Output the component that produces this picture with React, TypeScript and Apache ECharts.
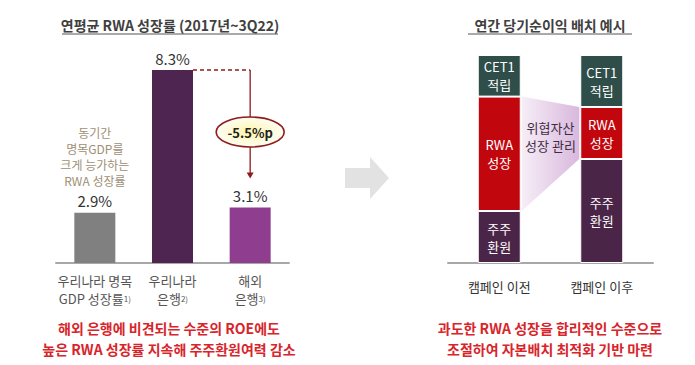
import React, { useEffect, useRef } from "react";
import * as echarts from "echarts";

// ---- Left panel data ----
const leftTitle = "연평균 RWA 성장률 (2017년~3Q22)";
const leftCategories = ["우리나라 명목\nGDP 성장률", "우리나라\n은행", "해외\n은행"];
const leftFootnotes = ["1)", "2)", "3)"];
const leftValues = [2.9, 8.3, 3.1];
const leftColors = ["#808080", "#4e2551", "#8f3d8e"];
const gdpNote = ["동기간", "명목GDP를", "크게 능가하는", "RWA 성장률"];
const gapLabel = "-5.5%p";
const leftBottomText = ["해외 은행에 비견되는 수준의 ROE에도", "높은 RWA 성장률 지속해 주주환원여력 감소"];

// ---- Right panel data ----
const rightTitle = "연간 당기순이익 배치 예시";
const rightCategories = ["캠페인 이전", "캠페인 이후"];
const shareholderReturn = [25, 50];
const rwaGrowth = [55, 25];
const cet1 = [20, 25];
const segmentNames = ["주주\n환원", "RWA\n성장", "CET1\n적립"];
const managementLabel = "위협자산\n성장 관리";
const rightBottomText = ["과도한 RWA 성장을 합리적인 수준으로", "조절하여 자본배치 최적화 기반 마련"];

const FONT = "'Noto Sans CJK KR', 'Noto Sans', sans-serif";
const LEFT_BAR_W = 41;
const RIGHT_BAR_W = 43;

export default function App() {
  const ref = useRef<HTMLDivElement>(null);

  useEffect(() => {
    if (!ref.current) return;
    const chart = echarts.init(ref.current, null, { renderer: "svg" });

    const option: any = {
      animation: false,
      backgroundColor: "#ffffff",
      textStyle: { fontFamily: FONT },
      grid: [
        { left: 56, top: 70, width: 233, height: 193 },
        { left: 448, top: 55, width: 205, height: 208 },
      ],
      xAxis: [
        {
          type: "category",
          gridIndex: 0,
          data: leftCategories,
          axisLine: { onZero: false, lineStyle: { color: "#a8a8a8", width: 2 } },
          axisTick: { show: false },
          axisLabel: {
            margin: 8,
            interval: 0,
            formatter: (v: string, i: number) => {
              const lines = v.split("\n");
              return `{n|${lines[0]}}\n{n|${lines[1]}}{s|${leftFootnotes[i]}}`;
            },
            rich: {
              n: { fontSize: 13, color: "#555555", lineHeight: 18, fontFamily: FONT },
              s: { fontSize: 8, color: "#555555", lineHeight: 18, fontFamily: FONT },
            },
          },
        },
        {
          type: "category",
          gridIndex: 1,
          data: rightCategories,
          axisLine: { onZero: false, lineStyle: { color: "#a8a8a8", width: 2 } },
          axisTick: { show: false },
          axisLabel: { margin: 17, fontSize: 13, color: "#333333", fontFamily: FONT },
        },
      ],
      yAxis: [
        { type: "value", gridIndex: 0, min: 1, max: 8.3, show: false },
        { type: "value", gridIndex: 1, min: 0, max: 100, show: false },
      ],
      series: [
        {
          type: "bar",
          xAxisIndex: 0,
          yAxisIndex: 0,
          barWidth: LEFT_BAR_W,
          clip: true,
          data: leftValues.map((v, i) => ({ value: v, itemStyle: { color: leftColors[i] } })),
          label: {
            show: true,
            position: "top",
            distance: 0,
            formatter: (p: any) => {
              const val = `{v|${p.value}%}`;
              if (p.dataIndex === 0) {
                return gdpNote.map((l) => `{a|${l}}`).join("\n") + "\n" + val;
              }
              return val;
            },
            rich: {
              a: { fontSize: 12, color: "#a08f74", lineHeight: 16, fontFamily: FONT },
              v: { fontSize: 15, color: "#333333", lineHeight: 24, fontFamily: FONT },
            },
          },
        },
        {
          type: "custom",
          xAxisIndex: 0,
          yAxisIndex: 0,
          data: [[1, leftValues[1], 2, leftValues[2]]],
          z: 5,
          renderItem: (params: any, api: any) => {
            const a = api.coord([api.value(0), api.value(1)]);
            const b = api.coord([api.value(2), api.value(1)]);
            const c = api.coord([api.value(2), api.value(3)]);
            const x = b[0];
            const tip = c[1] - 29;
            const ey = b[1] + 62;
            const col = "#8e1c1e";
            return {
              type: "group",
              children: [
                {
                  type: "line",
                  shape: { x1: a[0] + LEFT_BAR_W / 2, y1: a[1], x2: x, y2: b[1] },
                  style: { stroke: col, lineWidth: 1.5, lineDash: [4, 3] },
                },
                {
                  type: "line",
                  shape: { x1: x, y1: b[1], x2: x, y2: tip - 5 },
                  style: { stroke: col, lineWidth: 1.3 },
                },
                {
                  type: "polygon",
                  shape: { points: [[x - 3.5, tip - 6], [x + 3.5, tip - 6], [x, tip]] },
                  style: { fill: col },
                },
                {
                  type: "ellipse",
                  shape: { cx: x, cy: ey, rx: 34, ry: 15 },
                  style: {
                    fill: new echarts.graphic.RadialGradient(0.5, 0.5, 0.6, [
                      { offset: 0, color: "#fff6a8" },
                      { offset: 0.6, color: "#fffbe0" },
                      { offset: 1, color: "#ffffff" },
                    ]),
                    stroke: col,
                    lineWidth: 1.6,
                  },
                },
                {
                  type: "text",
                  style: {
                    x: x,
                    y: ey,
                    text: gapLabel,
                    fontSize: 13,
                    fontWeight: "bold",
                    fill: "#222222",
                    align: "center",
                    verticalAlign: "middle",
                    fontFamily: FONT,
                  },
                },
              ],
            };
          },
        },
        {
          type: "custom",
          xAxisIndex: 1,
          yAxisIndex: 1,
          data: [[0, 1]],
          z: 1,
          renderItem: (params: any, api: any) => {
            const lt = api.coord([0, shareholderReturn[0] + rwaGrowth[0]]);
            const lb = api.coord([0, shareholderReturn[0]]);
            const rt = api.coord([1, shareholderReturn[1] + rwaGrowth[1]]);
            const rb = api.coord([1, shareholderReturn[1]]);
            const hw = RIGHT_BAR_W / 2;
            const x1 = lt[0] + hw + 1;
            const x2 = rt[0] - hw - 1;
            const mx = (x1 + x2) / 2;
            const my = ((lt[1] + rt[1]) / 2 + (lb[1] + rb[1]) / 2) / 2 - 7;
            return {
              type: "group",
              children: [
                {
                  type: "polygon",
                  shape: { points: [[x1, lt[1]], [x2, rt[1]], [x2, rb[1]], [x1, lb[1]]] },
                  style: {
                    fill: new echarts.graphic.LinearGradient(0, 0, 1, 0, [
                      { offset: 0, color: "#f6eef7" },
                      { offset: 1, color: "#d9b8dd" },
                    ]),
                  },
                },
                {
                  type: "text",
                  style: {
                    x: mx,
                    y: my,
                    text: managementLabel,
                    fontSize: 13,
                    lineHeight: 18,
                    fill: "#3f2c42",
                    align: "center",
                    verticalAlign: "middle",
                    fontFamily: FONT,
                  },
                },
              ],
            };
          },
        },
        ...[shareholderReturn, rwaGrowth, cet1].map((d, i) => ({
          type: "bar",
          name: segmentNames[i],
          xAxisIndex: 1,
          yAxisIndex: 1,
          stack: "alloc",
          barWidth: RIGHT_BAR_W,
          z: 3,
          data: d,
          itemStyle: {
            color: ["#4b2548", "#c2060e", "#2f4e4a"][i],
            borderColor: "#ffffff",
            borderWidth: 1,
          },
          label: {
            show: true,
            position: "inside",
            formatter: () => segmentNames[i],
            color: "#ffffff",
            fontSize: 13,
            lineHeight: 18,
            fontFamily: FONT,
          },
        })),
      ],
      graphic: [
        {
          type: "text",
          x: 170,
          y: 25,
          style: {
            text: leftTitle,
            fontSize: 14,
            fontWeight: "bold",
            fill: "#404040",
            align: "center",
            verticalAlign: "middle",
            fontFamily: FONT,
          },
        },
        { type: "line", shape: { x1: 62, y1: 34, x2: 278, y2: 34 }, style: { stroke: "#555555", lineWidth: 1 } },
        {
          type: "text",
          x: 550,
          y: 25,
          style: {
            text: rightTitle,
            fontSize: 14,
            fontWeight: "bold",
            fill: "#404040",
            align: "center",
            verticalAlign: "middle",
            fontFamily: FONT,
          },
        },
        { type: "line", shape: { x1: 468, y1: 34, x2: 632, y2: 34 }, style: { stroke: "#555555", lineWidth: 1 } },
        {
          type: "polygon",
          shape: {
            points: [[345, 168], [370, 168], [370, 157], [389, 178], [370, 199], [370, 188], [345, 188]],
          },
          style: { fill: "#e2e2e2" },
        },
        {
          type: "text",
          x: 169,
          y: 338,
          style: {
            text: leftBottomText.join("\n"),
            fontSize: 14,
            lineHeight: 21,
            fontWeight: "bold",
            fill: "#d8252b",
            align: "center",
            verticalAlign: "middle",
            fontFamily: FONT,
          },
        },
        {
          type: "text",
          x: 550,
          y: 338,
          style: {
            text: rightBottomText.join("\n"),
            fontSize: 14,
            lineHeight: 21,
            fontWeight: "bold",
            fill: "#d8252b",
            align: "center",
            verticalAlign: "middle",
            fontFamily: FONT,
          },
        },
      ],
    };

    chart.setOption(option);
    return () => chart.dispose();
  }, []);

  return (
    <div
      ref={ref}
      style={{ position: "fixed", left: 0, top: 0, width: 695, height: 365, background: "#fff" }}
    />
  );
}
